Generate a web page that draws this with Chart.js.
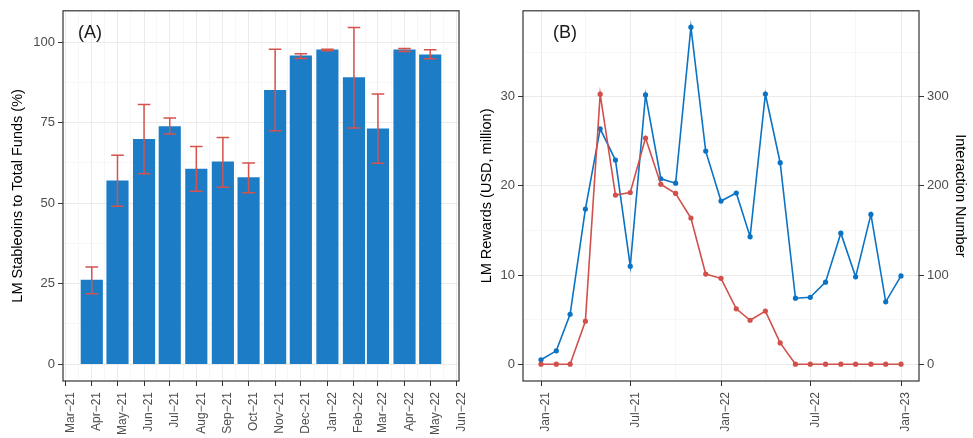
<!DOCTYPE html>
<html>
<head>
<meta charset="utf-8">
<script src="https://cdn.jsdelivr.net/npm/chart.js@4.4.0/dist/chart.umd.min.js"></script>
<style>
  body { margin: 0; background: #fff; }
  #wrapA { position: absolute; left: 0; top: 0; width: 480px; height: 438px; }
  #wrapB { position: absolute; left: 480px; top: 0; width: 493px; height: 438px; }
</style>
</head>
<body>
<div id="wrapA"><canvas id="chartA" width="480" height="438"></canvas></div>
<div id="wrapB"><canvas id="chartB" width="493" height="438"></canvas></div>
<script>
// (A) share of LM stablecoins, monthly
const barMonths = ['2021-04', '2021-05', '2021-06', '2021-07', '2021-08', '2021-09', '2021-10',
  '2021-11', '2021-12', '2022-01', '2022-02', '2022-03', '2022-04', '2022-05'];
const stablePct = [26.1, 56.9, 69.8, 73.8, 60.6, 62.8, 57.9, 85.0, 95.7, 97.6, 89.0, 73.1, 97.6, 96.0];
const errLow = [21.9, 49.0, 59.1, 71.5, 53.7, 54.9, 53.2, 72.5, 94.9, 97.3, 73.3, 62.4, 97.1, 94.8];
const errHigh = [30.2, 64.9, 80.6, 76.4, 67.6, 70.4, 62.5, 97.8, 96.4, 97.8, 104.5, 83.9, 98.0, 97.6];
const barTickMonths = ['2021-03', '2021-04', '2021-05', '2021-06', '2021-07', '2021-08', '2021-09', '2021-10',
  '2021-11', '2021-12', '2022-01', '2022-02', '2022-03', '2022-04', '2022-05', '2022-06'];
const pctTicks = [0, 25, 50, 75, 100];

// (B) rewards and interactions, monthly
const lineMonths = ['2021-01', '2021-02', '2021-03', '2021-04', '2021-05', '2021-06', '2021-07', '2021-08',
  '2021-09', '2021-10', '2021-11', '2021-12', '2022-01', '2022-02', '2022-03', '2022-04', '2022-05',
  '2022-06', '2022-07', '2022-08', '2022-09', '2022-10', '2022-11', '2022-12', '2023-01'];
const rewards = [0, 0, 0, 4.82, 30.29, 18.97, 19.26, 25.37, 20.18, 19.15, 16.4, 10.11, 9.63, 6.21, 4.93,
  5.96, 2.39, 0, 0, 0, 0, 0, 0, 0, 0];
const interactions = [5, 15, 56, 174, 264, 229, 110, 302, 208, 203, 378, 239, 183, 192, 143, 303, 226,
  74, 75, 92, 147, 98, 168, 70, 99];
const lineTickMonths = ['2021-01', '2021-07', '2022-01', '2022-07', '2023-01'];
const rewardTicks = [0, 10, 20, 30];
const interactionTicks = [0, 100, 200, 300];

const MONTHS = ['Jan', 'Feb', 'Mar', 'Apr', 'May', 'Jun', 'Jul', 'Aug', 'Sep', 'Oct', 'Nov', 'Dec'];
const FONT = '"Liberation Sans", Arial, sans-serif';
const GRID = '#EBEBEB';
const GRID_MINOR = '#F3F3F3';

function dayOf(key, origin) {
  const [y, m] = key.split('-').map(Number);
  return (Date.UTC(y, m - 1, 1) - Date.UTC(origin[0], origin[1] - 1, 1)) / 86400000;
}
function monthLabel(key) {
  const [y, m] = key.split('-');
  return MONTHS[parseInt(m) - 1] + '\u2212' + y.slice(2);
}
// major ticks plus ggplot-like minor ticks halfway between
function withMinors(majors, min, max) {
  const out = majors.map(v => ({ value: v, major: true }));
  for (let i = 0; i < majors.length - 1; i++) {
    out.push({ value: (majors[i] + majors[i + 1]) / 2, major: false });
  }
  const step = majors[1] - majors[0];
  const before = majors[0] - step / 2, after = majors[majors.length - 1] + step / 2;
  if (before >= min) out.push({ value: before, major: false });
  if (after <= max) out.push({ value: after, major: false });
  return out.sort((a, b) => a.value - b.value);
}

const gridColor = ctx => (ctx.tick && ctx.tick.major ? GRID : GRID_MINOR);
const gridWidth = ctx => (ctx.tick && ctx.tick.major ? 1 : 0.7);
const tickColor = ctx => (ctx.tick && ctx.tick.major ? '#333333' : 'rgba(0,0,0,0)');

const panelBox = {
  id: 'panelBox',
  afterDraw(chart) {
    const { ctx, chartArea: a } = chart;
    ctx.save();
    ctx.strokeStyle = '#333333';
    ctx.lineWidth = 1.2;
    ctx.strokeRect(a.left, a.top, a.right - a.left, a.bottom - a.top);
    ctx.font = '18px ' + FONT;
    ctx.fillStyle = '#1a1a1a';
    ctx.textBaseline = 'middle';
    ctx.fillText(chart.options.plugins.panelBox.label, a.left + chart.options.plugins.panelBox.dx, a.top + 22);
    ctx.restore();
  }
};

// ---------- (A) ----------
const origA = [2021, 3];
const barDays = barMonths.map(k => dayOf(k, origA));
const barTickDays = barTickMonths.map(k => dayOf(k, origA));
const xAMin = -2.6, xAMax = 459.6;
const yAMin = -5.2, yAMax = 109.7;

const errorBars = {
  id: 'errorBars',
  afterDatasetsDraw(chart) {
    const { ctx, scales: { x, y } } = chart;
    ctx.save();
    ctx.strokeStyle = '#D5534D';
    ctx.lineWidth = 1.5;
    barDays.forEach((d, i) => {
      const px = x.getPixelForValue(d);
      const top = y.getPixelForValue(errHigh[i]);
      const bot = y.getPixelForValue(errLow[i]);
      ctx.beginPath();
      ctx.moveTo(px, top); ctx.lineTo(px, bot);
      ctx.moveTo(px - 6.3, top); ctx.lineTo(px + 6.3, top);
      ctx.moveTo(px - 6.3, bot); ctx.lineTo(px + 6.3, bot);
      ctx.stroke();
    });
    ctx.restore();
  }
};

new Chart(document.getElementById('chartA'), {
  type: 'bar',
  data: {
    datasets: [{
      data: barDays.map((d, i) => ({ x: d, y: stablePct[i] })),
      backgroundColor: '#1C7DC6',
      barThickness: 21.5
    }]
  },
  options: {
    responsive: false,
    animation: false,
    layout: { padding: { top: 5, right: 21, left: 0, bottom: 0 } },
    plugins: {
      legend: { display: false },
      tooltip: { enabled: false },
      panelBox: { label: '(A)', dx: 15 }
    },
    scales: {
      x: {
        type: 'linear',
        min: xAMin, max: xAMax,
        offset: false,
        afterBuildTicks: s => { s.ticks = withMinors(barTickDays, xAMin, xAMax); },
        afterFit: s => { s.height = 57; },
        ticks: {
          autoSkip: false, minRotation: 90, maxRotation: 90, padding: 6, labelOffset: 5,
          color: '#4D4D4D', font: { family: FONT, size: 12 },
          callback: (v) => { const i = barTickDays.indexOf(v); return i >= 0 ? monthLabel(barTickMonths[i]) : ''; }
        },
        grid: { offset: false, color: gridColor, lineWidth: gridWidth, tickColor: tickColor, tickLength: 5 },
        border: { display: false }
      },
      y: {
        min: yAMin, max: yAMax,
        afterBuildTicks: s => { s.ticks = withMinors(pctTicks, yAMin, yAMax); },
        afterFit: s => { s.width = 63; },
        ticks: {
          autoSkip: false, padding: 3, color: '#4D4D4D', font: { family: FONT, size: 13 },
          callback: v => (pctTicks.includes(v) ? String(v) : '')
        },
        grid: { color: gridColor, lineWidth: gridWidth, tickColor: tickColor, tickLength: 5 },
        border: { display: false },
        title: {
          display: true, text: 'LM Stableoins to Total Funds (%)', color: '#000',
          font: { family: FONT, size: 14.5, lineHeight: 1 }, padding: { top: 11, bottom: 0 }
        }
      }
    }
  },
  plugins: [errorBars, panelBox]
});

// ---------- (B) ----------
const origB = [2021, 1];
const lineDays = lineMonths.map(k => dayOf(k, origB));
const lineTickDays = lineTickMonths.map(k => dayOf(k, origB));
const xBMin = -36.5, xBMax = 766.5;
const yBMin = -1.885, yBMax = 39.64;

new Chart(document.getElementById('chartB'), {
  type: 'line',
  data: {
    datasets: [
      {
        label: 'LM Rewards',
        data: lineDays.map((d, i) => ({ x: d, y: rewards[i] })),
        borderColor: '#D1504B', backgroundColor: '#D1504B',
        borderWidth: 1.6, pointRadius: 2.6, pointBorderWidth: 0, tension: 0,
        yAxisID: 'y'
      },
      {
        label: 'Interaction Number',
        data: lineDays.map((d, i) => ({ x: d, y: interactions[i] })),
        borderColor: '#0B73C4', backgroundColor: '#0B73C4',
        borderWidth: 1.6, pointRadius: 2.6, pointBorderWidth: 0, tension: 0,
        yAxisID: 'y2'
      }
    ]
  },
  options: {
    responsive: false,
    animation: false,
    layout: { padding: { top: 5, right: 0, left: 0, bottom: 0 } },
    plugins: {
      legend: { display: false },
      tooltip: { enabled: false },
      panelBox: { label: '(B)', dx: 30 }
    },
    scales: {
      x: {
        type: 'linear',
        min: xBMin, max: xBMax,
        afterBuildTicks: s => { s.ticks = withMinors(lineTickDays, xBMin, xBMax); },
        afterFit: s => { s.height = 57; },
        ticks: {
          autoSkip: false, minRotation: 90, maxRotation: 90, padding: 6, labelOffset: 5,
          color: '#4D4D4D', font: { family: FONT, size: 12 },
          callback: (v) => { const i = lineTickDays.indexOf(v); return i >= 0 ? monthLabel(lineTickMonths[i]) : ''; }
        },
        grid: { color: gridColor, lineWidth: gridWidth, tickColor: tickColor, tickLength: 5 },
        border: { display: false }
      },
      y: {
        position: 'left',
        min: yBMin, max: yBMax,
        afterBuildTicks: s => { s.ticks = withMinors(rewardTicks, yBMin, yBMax); },
        afterFit: s => { s.width = 43; },
        ticks: {
          autoSkip: false, padding: 3, color: '#4D4D4D', font: { family: FONT, size: 13 },
          callback: v => (rewardTicks.includes(v) ? String(v) : '')
        },
        grid: { color: gridColor, lineWidth: gridWidth, tickColor: tickColor, tickLength: 5 },
        border: { display: false },
        title: {
          display: true, text: 'LM Rewards (USD, million)', color: '#000',
          font: { family: FONT, size: 14.5, lineHeight: 1 }, padding: { top: 0, bottom: 0 }
        }
      },
      y2: {
        position: 'right',
        min: yBMin * 10, max: yBMax * 10,
        afterBuildTicks: s => { s.ticks = interactionTicks.map(v => ({ value: v, major: true })); },
        afterFit: s => { s.width = 54; },
        ticks: {
          autoSkip: false, padding: 3, color: '#4D4D4D', font: { family: FONT, size: 13 },
          callback: v => String(v)
        },
        grid: { drawOnChartArea: false, tickColor: '#333333', tickLength: 5 },
        border: { display: false },
        title: {
          display: true, text: 'Interaction Number', color: '#000',
          font: { family: FONT, size: 14.5, lineHeight: 1 }, padding: { top: 6, bottom: 0 }
        }
      }
    }
  },
  plugins: [panelBox]
});
</script>
</body>
</html>
